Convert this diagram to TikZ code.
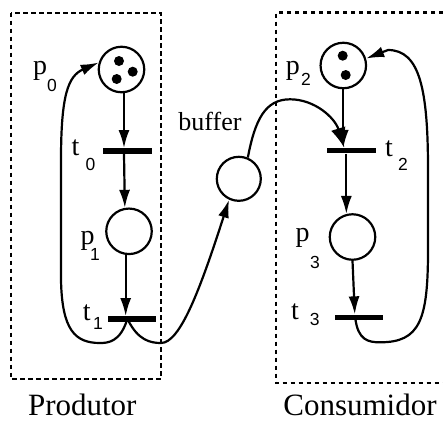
\documentclass[tikz,border=0pt]{standalone}
\usepackage{fontspec}
\setmainfont{Liberation Serif}
\newfontfamily\subfont{Liberation Sans}
\usetikzlibrary{arrows.meta,calc}
\begin{document}
\begin{tikzpicture}[x=1pt,y=-1pt,
 place/.style={circle,draw,line width=2.2pt,minimum size=45.5pt,inner sep=0pt},
 bar/.style={rectangle,fill=black,minimum width=48.5pt,minimum height=5.5pt,inner sep=0pt},
 token/.style={circle,fill=black,minimum size=10pt,inner sep=0pt},
 arc/.style={line width=2.2pt,-{Latex[length=18pt,width=11pt]}},
 bigarc/.style={line width=2.2pt,-{Latex[length=20pt,width=15pt]}},
 lbl/.style={anchor=base,inner sep=0pt,font=\fontsize{28}{30}\selectfont},
 sub/.style={anchor=base,inner sep=0pt,font=\subfont\fontsize{17.5}{19}\selectfont},
 box/.style={line width=2.2pt,dash pattern=on 4.5pt off 3.5pt},
 title/.style={anchor=base,inner sep=0pt,font=\fontsize{31}{33}\selectfont}]
\useasboundingbox (0,0) rectangle (443,421);

% dashed boxes
\draw[box] (10.7,12.7) rectangle (161,379);
\draw[box] (443,12.5) -- (276,12.5) -- (276,383) -- (443,383);

% places and transitions
\node[place] (p0) at (121.5,69.5) {};
\node[token] (k01) at (119,61) {};
\node[token] (k02) at (132.7,71.7) {};
\node[token] (k03) at (116.7,79) {};
\node[bar] (t0) at (127.3,151) {};
\node[place] (p1) at (129,231.3) {};
\node[bar] (t1) at (132,319) {};
\node[place,minimum size=44pt] (buf) at (238.8,178.8) {};
\node[place] (p2) at (343.3,65.5) {};
\node[token] (k21) at (342.7,55.7) {};
\node[token] (k22) at (345.7,75) {};
\node[bar] (t2) at (351.7,150.7) {};
\node[place] (p3) at (352.5,237) {};
\node[bar] (t3) at (358.8,317.3) {};

% straight arcs
\draw[arc] (p0.-84) -- (p0.-84 |- t0.north);
\draw[arc] (p0.-84 |- t0.south) -- (p1.100);
\draw[arc] (p1.262) -- (p1.262 |- t1.north);
\draw[arc] (p2.south) -- (p2.south |- t2.north);
\draw[arc] (p3.105 |- t2.south) -- (p3.105);
\draw[arc] (p3.south) -- ($(t3.north)+(-4,0)$);

% curved arcs
\draw[arc] ($(t1.center)+(-5,1)$) .. controls (120,342) and (108,343) .. (100,343)
  .. controls (75,343) and (62,330) .. (61,280) -- (61,160)
  .. controls (61,95) and (68,76) .. (p0.163);
\draw[arc] ($(t1.center)+(-4,1)$) .. controls (138,340) and (150,343) .. (161,343)
  .. controls (180,343) and (200,290) .. (buf.245);
\draw[bigarc] (buf.67) .. controls (255,120) and (265,99.3) .. (290,99.3)
  .. controls (315,99.3) and (335,118) .. ($(t2.north)+(-7.5,0)$);
\draw[arc] ($(t3.center)+(-3.5,1)$) .. controls (358,340) and (368,342.3) .. (380,342.3)
  .. controls (420,342.3) and (428,320) .. (428,250) -- (428,170)
  .. controls (428,90) and (420,50) .. (388,50) -- (p2.17);

% labels
\node[lbl] (lp0) at (40,74) {p};   \node[sub] (sp0) at (52,91) {0};
\node[lbl] (lt0) at (75.5,155) {t}; \node[sub] (st0) at (90.5,170.7) {0};
\node[lbl] (lp1) at (87.5,244) {p}; \node[sub] (sp1) at (95,260.7) {1};
\node[lbl] (lt1) at (86.7,320.7) {t}; \node[sub] (st1) at (98,329.3) {1};
\node[lbl] (lp2) at (292.8,74) {p}; \node[sub] (sp2) at (306,85) {2};
\node[lbl] (lt2) at (389,156.7) {t}; \node[sub] (st2) at (403,170.7) {2};
\node[lbl] (lp3) at (302.5,241) {p}; \node[sub] (sp3) at (315,268.3) {3};
\node[lbl] (lt3) at (295,319) {t}; \node[sub] (st3) at (314.7,325) {3};
\node[anchor=base,inner sep=0pt,font=\fontsize{26}{28}\selectfont] (lbuf) at (210,130.7) {buffer};
\node[title] (prod) at (82.3,415) {Produtor};
\node[title] (cons) at (360,415) {Consumidor};
\end{tikzpicture}
\end{document}
